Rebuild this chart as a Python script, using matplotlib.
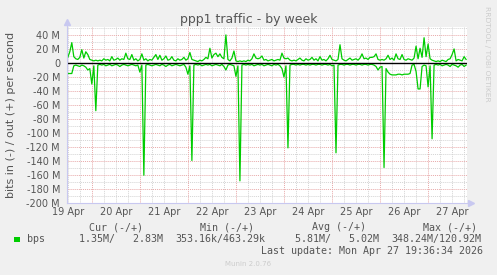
import matplotlib
matplotlib.use("Agg")
import matplotlib.pyplot as plt
import matplotlib.dates as mdates
import pandas as pd
import numpy as np

# ---------------- data ----------------
title = "ppp1 traffic - by week"
ylabel = "bits in (-) / out (+) per second"
start_sample = "2026-04-19 12:00"   # hourly samples
view_start = "2026-04-19 11:36"
view_end = "2026-04-27 19:36"

# bits out (+), M bits/s, hourly
bits_out = [
    8, 16, 29, 9, 6, 5, 8, 19, 7, 16,
    12, 5, 4, 3, 4, 3, 4, 3, 6, 4,
    5, 3, 9, 4, 5, 7, 4, 6, 5, 14,
    6, 5, 12, 4, 6, 3, 5, 13, 4, 6,
    3, 5, 4, 8, 12, 5, 11, 4, 6, 10,
    4, 5, 9, 4, 3, 6, 4, 5, 8, 4,
    6, 15, 5, 4, 3, 2, 4, 3, 5, 8,
    6, 21, 7, 12, 14, 9, 13, 8, 6, 40,
    5, 3, 7, 17, 3, 2, 3, 2, 3, 2,
    4, 3, 6, 13, 7, 6, 7, 10, 4, 5,
    3, 4, 5, 3, 4, 5, 4, 14, 7, 6,
    7, 4, 3, 4, 3, 5, 7, 4, 3, 6,
    4, 5, 8, 4, 6, 3, 9, 4, 5, 3,
    6, 11, 5, 4, 3, 5, 26, 6, 4, 3,
    5, 7, 4, 5, 6, 4, 7, 13, 6, 7,
    5, 8, 8, 9, 13, 5, 4, 5, 4, 6,
    11, 5, 7, 4, 13, 6, 5, 12, 5, 4,
    6, 5, 4, 7, 24, 6, 21, 8, 36, 9,
    27, 6, 4, 3, 2, 3, 2, 4, 3, 2,
    5, 6, 12, 20, 3, 5, 4, 3, 9, 5,
]
# bits in (-), M bits/s, hourly (drawn negative)
bits_in = [
    15, 15, 15, 4, 3, 4, 5, 3, 4, 6,
    10, 8, 30, 4, 68, 3, 2, 3, 2, 4,
    3, 2, 4, 3, 2, 3, 5, 3, 2, 3,
    4, 3, 2, 3, 4, 3, 13, 3, 160, 3,
    2, 3, 4, 3, 2, 3, 4, 2, 3, 5,
    3, 2, 4, 3, 2, 3, 4, 3, 2, 6,
    16, 4, 139, 3, 2, 3, 2, 4, 3, 2,
    3, 2, 4, 3, 2, 3, 4, 2, 5, 10,
    3, 2, 3, 4, 19, 4, 168, 3, 2, 3,
    2, 3, 2, 4, 3, 2, 3, 2, 4, 3,
    2, 3, 4, 2, 3, 2, 4, 8, 20, 4,
    121, 3, 2, 2, 3, 2, 3, 2, 2, 3,
    2, 3, 2, 2, 3, 2, 2, 3, 2, 2,
    3, 2, 4, 3, 128, 3, 2, 2, 3, 2,
    2, 3, 2, 2, 3, 2, 2, 3, 2, 2,
    3, 2, 2, 3, 5, 10, 6, 5, 149, 8,
    13, 16, 17, 17, 17, 16, 16, 17, 16, 16,
    16, 15, 3, 2, 12, 37, 37, 5, 3, 4,
    34, 4, 108, 3, 2, 3, 2, 4, 3, 2,
    3, 5, 2, 3, 4, 6, 3, 2, 5, 3,
]
y_ticks = [40, 20, 0, -20, -40, -60, -80, -100, -120, -140, -160, -180, -200]
y_tick_labels = ["40 M", "20 M", "0", "-20 M", "-40 M", "-60 M", "-80 M", "-100 M",
                 "-120 M", "-140 M", "-160 M", "-180 M", "-200 M"]
x_tick_days = ["19", "20", "21", "22", "23", "24", "25", "26", "27"]

legend_name = "bps"
cur_vals = "1.35M/   2.83M"
min_vals = "353.16k/463.29k"
avg_vals = "5.81M/   5.02M"
max_vals = "348.24M/120.92M"
last_update = "Last update: Mon Apr 27 19:36:34 2026"
munin_ver = "Munin 2.0.76"
side_text = "RRDTOOL / TOBI OETIKER"

# ---------------- style ----------------
W, H = 497, 275
BG = "#f0f0f0"
GREEN = "#00cc00"
TXT = "#555555"
MAJ = "#e8a9a9"
MIN = "#d4d4d4"
AXC = "#c8c8f0"

fig = plt.figure(figsize=(W / 100, H / 100), dpi=100, facecolor=BG)
L, R, T, B = 67, 467.3, 26.5, 203.3
ax = fig.add_axes([L / W, 1 - B / H, (R - L) / W, (B - T) / H])
ax.set_facecolor("white")

times = pd.date_range(start_sample, periods=len(bits_out), freq="h")
x0 = pd.Timestamp(view_start)
x1 = pd.Timestamp(view_end)
ax.set_xlim(x0, x1)
ax.set_ylim(-200, 52)

# grid
days = pd.date_range("2026-04-19", "2026-04-28", freq="D")
six = pd.date_range("2026-04-19", "2026-04-28", freq="6h")
dot = (0, (1, 1))
for t in six:
    if t.hour != 0:
        ax.axvline(t, color=MIN, lw=0.7, ls=dot, zorder=1)
for v in range(-200, 60, 10):
    if v % 20 != 0:
        ax.axhline(v, color=MIN, lw=0.7, ls=dot, zorder=1)
for t in days:
    ax.axvline(t, color=MAJ, lw=0.7, ls=dot, zorder=1.2)
for v in range(-200, 60, 20):
    ax.axhline(v, color=MAJ, lw=0.7, ls=dot, zorder=1.2)

# data
ax.plot(times, bits_out, color=GREEN, lw=0.9, zorder=3)
ax.plot(times, -np.array(bits_in), color=GREEN, lw=0.9, zorder=3)
ax.axhline(0, color="black", lw=1.0, zorder=4)

# axes styling
for s in ax.spines.values():
    s.set_visible(False)
ax.plot([0, 0], [0, 1.025], color=AXC, lw=0.8, transform=ax.transAxes, clip_on=False, zorder=5)
ax.plot([0, 1.01], [0, 0], color=AXC, lw=0.8, transform=ax.transAxes, clip_on=False, zorder=5)
ax.plot([0], [1.025], marker="^", ms=4, color=AXC, transform=ax.transAxes, clip_on=False, zorder=5)
ax.plot([1.01], [0], marker=">", ms=4, color=AXC, transform=ax.transAxes, clip_on=False, zorder=5)

ax.set_yticks(y_ticks)
ax.set_yticklabels(y_tick_labels)
noon = [pd.Timestamp(f"2026-04-{d} 12:00") for d in x_tick_days]
ax.set_xticks(noon)
ax.set_xticklabels([f"{d} Apr" for d in x_tick_days])
ax.tick_params(axis="y", length=0, pad=5, labelsize=7, labelcolor=TXT)
ax.tick_params(axis="x", length=0, pad=3, labelsize=7, labelcolor=TXT)

def fx(px):
    return px / W

def fy(py):
    return 1 - py / H

fig.text(fx(248.3), fy(19), title, ha="center", va="center", fontsize=9, color=TXT)
fig.text(fx(11.5), fy(115), ylabel, ha="center", va="center", rotation=90, fontsize=8, color=TXT)
fig.text(fx(487.5), fy(53.5), side_text, ha="center", va="center", rotation=270,
         fontsize=5.4, color="#cccccc")

mono = dict(family="DejaVu Sans Mono", fontsize=7.2, color=TXT, va="center", ha="left")
fig.text(fx(89), fy(227), "Cur (-/+)", **mono)
fig.text(fx(200), fy(227), "Min (-/+)", **mono)
fig.text(fx(312), fy(227), "Avg (-/+)", **mono)
fig.text(fx(423), fy(227), "Max (-/+)", **mono)
fig.text(fx(27), fy(239), legend_name, **mono)
fig.text(fx(79), fy(239), cur_vals, **mono)
fig.text(fx(175), fy(239), min_vals, **mono)
fig.text(fx(295), fy(239), avg_vals, **mono)
fig.text(fx(391), fy(239), max_vals, **mono)
fig.text(fx(261), fy(251), last_update, **mono)
fig.patches.append(plt.Rectangle((fx(14), fy(242)), 5.5 / W, 5.5 / H, transform=fig.transFigure,
                                 facecolor=GREEN, edgecolor="none"))
fig.text(fx(248), fy(264), munin_ver, ha="center", va="center", fontsize=5, color="#cccccc")

fig.savefig("out.png", dpi=100, facecolor=BG)
